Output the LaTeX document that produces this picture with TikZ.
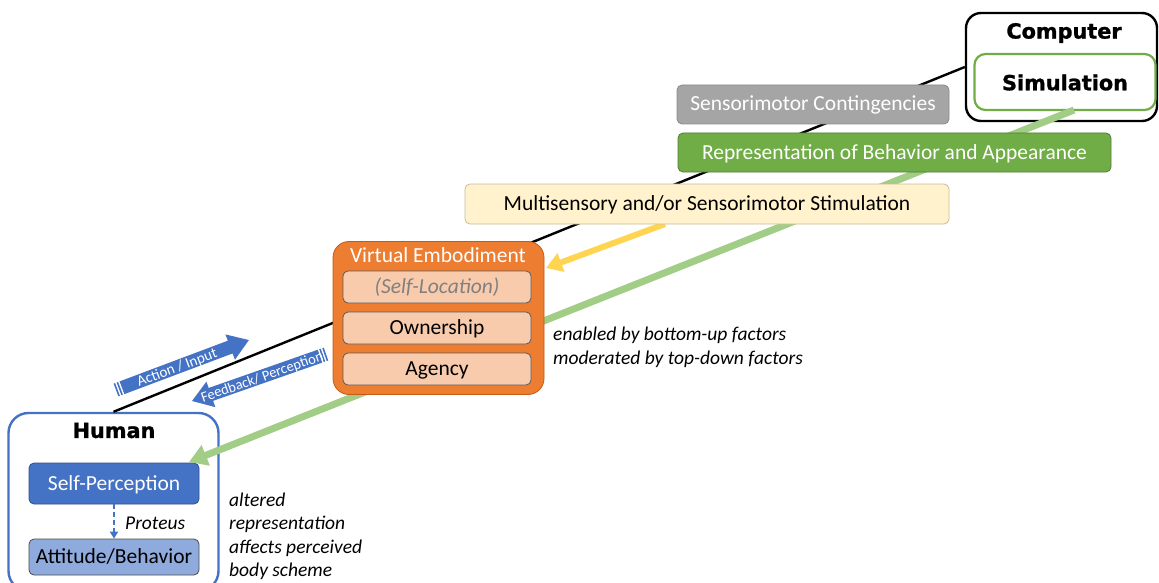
\documentclass[tikz,border=0pt]{standalone}
\usepackage{fontspec}
\setmainfont{Carlito}
\newfontfamily\heavyfont{DejaVu Sans}[BoldFeatures={FakeBold=1.2}]
\usetikzlibrary{arrows.meta}

\definecolor{hblue}{HTML}{4472C4}
\definecolor{hbluedark}{HTML}{2F528F}
\definecolor{lblue}{HTML}{8FAADC}
\definecolor{vorange}{HTML}{ED7D31}
\definecolor{vorangedark}{HTML}{C55A11}
\definecolor{peach}{HTML}{F8CBAD}
\definecolor{rgreen}{HTML}{70AD47}
\definecolor{rgreendark}{HTML}{507E32}
\definecolor{lgreen}{HTML}{A2CD86}
\definecolor{sgray}{HTML}{A5A5A5}
\definecolor{sgraydark}{HTML}{8A8A8A}
\definecolor{pyellow}{HTML}{FFF2CC}
\definecolor{pyellowdark}{HTML}{C8BC98}
\definecolor{yarrow}{HTML}{FFD450}
\definecolor{txtgray}{HTML}{808080}

\newcommand{\boxfont}{\fontsize{21.5}{25}\selectfont}
\newcommand{\notefont}{\fontsize{19.5}{23.5}\selectfont\itshape}
\newcommand{\titlefont}{\heavyfont\bfseries\fontsize{20.8}{24}\selectfont}
\newcommand{\arrowfont}{\fontsize{15}{16}\selectfont}

\tikzset{
  bar/.style={rounded corners=5pt, inner sep=0pt, font=\boxfont,
              text height=17pt, text depth=4pt},
  group/.style={line width=2.4pt, inner sep=0pt},
  sub/.style={bar, fill=peach, draw=black!65, line width=0.8pt,
              minimum width=188pt, minimum height=32pt},
  note/.style={inner sep=0pt, align=left, font=\notefont},
  flow/.style={line width=7pt, draw=lgreen},
  onarrow/.style={transform shape, text=white, font=\arrowfont, inner sep=0pt,
                  text height=12pt, text depth=2pt},
}

\begin{document}
\begin{tikzpicture}[x=1pt, y=-1pt]
\clip (0,0) rectangle (1159,583);

% containers
\node[group, draw=black, rounded corners=15pt, minimum width=191pt, minimum height=108pt]
  (comp) at (1061.5,67) {};
\node[group, draw=hblue, fill=white, rounded corners=20pt, minimum width=210pt, minimum height=178pt]
  (hum) at (113.5,502) {};

% link between human and computer
\draw[line width=2.4pt] (hum.north) -- (comp.west);

\node[group, draw=rgreen, fill=white, line width=2.2pt, rounded corners=11pt,
      minimum width=181pt, minimum height=56pt] (sim) at (1065,82) {};
\node[font=\titlefont] (comptitle) at (1064,33) {Computer};
\node[font=\titlefont] (simtitle) at (1065,82.5) {Simulation};

% human side
\node[font=\titlefont] (humtitle) at (114,430.5) {Human};
\node[bar, fill=hblue, draw=hbluedark, line width=0.8pt, text=white,
      minimum width=170pt, minimum height=41pt] (sp) at (114,483.5) {Self-Perception};
\node[bar, fill=lblue, draw=black!70, line width=0.8pt,
      minimum width=170pt, minimum height=36pt] (ab) at (114,557) {Attitude/Behavior};
\draw[hblue, line width=1.8pt, dash pattern=on 5pt off 3pt, -{Triangle[width=8pt,length=7pt]}]
  (sp.south) -- (ab.north);
\node[note, anchor=west] (proteus) at (125,523) {Proteus};

% stimulation flows
\coordinate (gtail) at (1074,110);
\coordinate (gtip) at (189,462);
\draw[flow, -{Triangle[width=21pt,length=18pt]}] (gtail) -- (gtip);

\coordinate (ytail) at (665,224);
\coordinate (ytip) at (546,268);
\draw[line width=6pt, draw=yarrow, -{Triangle[width=19pt,length=16pt]}] (ytail) -- (ytip);

% simulation layers
\node[bar, fill=sgray, draw=sgraydark, line width=0.8pt, text=white,
      minimum width=272pt, minimum height=39pt] (smc) at (813,104.5) {Sensorimotor Contingencies};
\node[bar, fill=rgreen, draw=rgreendark, line width=0.8pt, text=white,
      minimum width=433pt, minimum height=39pt] (rep) at (894.5,152.5) {Representation of Behavior and Appearance};
\node[bar, fill=pyellow, draw=pyellowdark, line width=0.8pt,
      minimum width=484pt, minimum height=40pt] (mss) at (707,204) {Multisensory and/or Sensorimotor Stimulation};

% virtual embodiment
\node[fill=vorange, draw=vorangedark, line width=0.8pt, rounded corners=16pt, inner sep=0pt,
      minimum width=211pt, minimum height=153pt] (ve) at (438.5,318) {};
\node[font=\boxfont, text=white, inner sep=0pt, text height=17pt, text depth=4pt]
  (vetitle) at (438,256) {Virtual Embodiment};
\node[sub, text=txtgray, font=\boxfont\itshape] (sl) at (437,287) {(Self-Location)};
\node[sub] (own) at (437,328) {Ownership};
\node[sub] (ag) at (437,369) {Agency};

% annotations
\node[note, anchor=north west] (factors) at (553,327)
  {enabled by bottom-up factors\\moderated by top-down factors};
\node[note, anchor=north west] (altered) at (229,492.5)
  {altered\\representation\\affects perceived\\body scheme};

% action / input
\begin{scope}[shift={(116,390)}, rotate=20.6]
  \fill[hblue] (0,-6.8) rectangle (1.6,6.8);
  \fill[hblue] (3.2,-6.8) rectangle (4.8,6.8);
  \fill[hblue] (6.4,-6.8) -- (122,-6.8) -- (122,-13.5) -- (142,0) -- (122,13.5)
    -- (122,6.8) -- (6.4,6.8) -- cycle;
  \node[onarrow] (act) at (65,0) {Action / Input};
\end{scope}

% feedback / perception
\begin{scope}[shift={(192,401)}, rotate=19.3]
  \fill[hblue] (142,-6.8) rectangle (140.4,6.8);
  \fill[hblue] (138.8,-6.8) rectangle (137.2,6.8);
  \fill[hblue] (135.6,-6.8) -- (20,-6.8) -- (20,-13.5) -- (0,0) -- (20,13.5)
    -- (20,6.8) -- (135.6,6.8) -- cycle;
  \node[onarrow, font=\fontsize{14.5}{16}\selectfont] (fb) at (74,0) {Feedback/ Perception};
\end{scope}

\end{tikzpicture}
\end{document}
